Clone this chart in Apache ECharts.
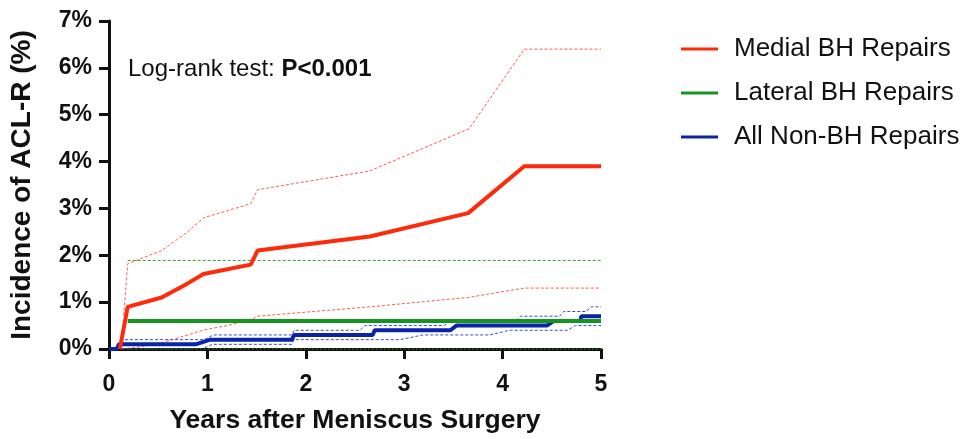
<!DOCTYPE html>
<html>
<head>
<meta charset="utf-8">
<script src="https://cdn.jsdelivr.net/npm/echarts@6/dist/echarts.min.js"></script>
<style>html,body{margin:0;padding:0;background:#fff}#c{width:965px;height:439px}</style>
</head>
<body>
<div id="c"></div>
<script>
// ---- data ----
var seriesNames = ['Medial BH Repairs', 'Lateral BH Repairs', 'All Non-BH Repairs'];
var xTicks = [0, 1, 2, 3, 4, 5];
var yTicks = [0, 1, 2, 3, 4, 5, 6, 7];

var medial = [[0.11,0],[0.19,0.9],[0.535,1.1],[0.8,1.4],[0.96,1.6],[1.44,1.8],[1.51,2.1],[2.65,2.4],[3.65,2.9],[4.22,3.9],[5,3.9]];
var medialUpper = [[0.15,0.72],[0.19,1.82],[0.535,2.1],[0.8,2.5],[0.96,2.8],[1.44,3.1],[1.51,3.4],[2.65,3.8],[3.66,4.7],[4.22,6.4],[5,6.4]];
var medialLower = [[0.13,0],[0.3,0.04],[0.55,0.14],[0.8,0.3],[0.97,0.41],[1.2,0.5],[1.44,0.62],[1.51,0.7],[2.65,0.9],[3.65,1.1],[4.22,1.3],[5,1.3]];

var lateral = [[0.19,0.6],[5,0.6]];
var lateralUpper = [[0.19,1.89],[5,1.89]];
var lateralLower = [[0.19,0],[5,0]];

var nonBH = [[0,0],[0.08,0],[0.1,0.1],[0.88,0.1],[1.03,0.2],[1.86,0.2],[1.88,0.3],[2.68,0.3],[2.7,0.4],[3.47,0.4],[3.53,0.5],[4.45,0.5],[4.52,0.6],[4.79,0.6],[4.8,0.7],[5,0.7]];
var nonBHUpper = [[0,0],[0.06,0],[0.15,0.2],[0.97,0.2],[1.06,0.3],[1.86,0.3],[1.88,0.4],[2.55,0.4],[2.6,0.5],[3.41,0.5],[3.45,0.6],[4.14,0.6],[4.18,0.7],[4.58,0.7],[4.62,0.8],[4.85,0.8],[4.9,0.9],[5,0.9]];
var nonBHLower = [[0.06,0],[0.95,0],[1.05,0.1],[1.86,0.1],[1.88,0.2],[2.96,0.2],[3.19,0.3],[3.87,0.3],[4.07,0.4],[4.66,0.4],[4.74,0.5],[5,0.5]];

var annotationText = 'Log-rank test: ';
var annotationBold = 'P<0.001';

// ---- chart ----
var RED = '#ff2a0a', GREEN = '#14961e', BLUE = '#0a23a8';
var FONT = 'Liberation Sans, Arial';
var chart = echarts.init(document.getElementById('c'));
function ci(name, data, color, width, type) {
  return {name: name, type: 'line', data: data, symbol: 'none', silent: true,
    lineStyle: {color: color, width: width || 1, type: type || [3, 2]}, z: 2};
}
function main(name, data, color) {
  return {name: name, type: 'line', data: data, symbol: 'none',
    itemStyle: {color: color}, lineStyle: {color: color, width: 4}, z: 5};
}
chart.setOption({
  animation: false,
  backgroundColor: '#fff',
  title: {
    text: '{a|' + annotationText + '}{b|' + annotationBold + '}',
    left: 123, top: 52,
    textStyle: {fontWeight: 'normal', rich: {
      a: {fontFamily: FONT, fontSize: 24, fontWeight: 'normal', color: '#111'},
      b: {fontFamily: FONT, fontSize: 24, fontWeight: 'bold', color: '#111'}
    }}
  },
  legend: {
    orient: 'vertical', left: 676, top: 31, itemGap: 18,
    itemWidth: 37, itemHeight: 3, icon: 'rect',
    data: seriesNames,
    textStyle: {fontFamily: FONT, fontSize: 26, color: '#111', padding: [0, 0, 0, 11]}
  },
  grid: {left: 106, right: 364, top: 21, bottom: 88, containLabel: false},
  xAxis: {
    type: 'value', min: xTicks[0], max: xTicks[xTicks.length - 1], interval: 1,
    name: 'Years after Meniscus Surgery', nameLocation: 'middle', nameGap: 58,
    nameTextStyle: {fontFamily: FONT, fontSize: 26.5, fontWeight: 'bold', color: '#111'},
    axisLine: {lineStyle: {color: '#111', width: 3}},
    axisTick: {length: 10, lineStyle: {color: '#111', width: 3}},
    axisLabel: {fontFamily: FONT, fontSize: 23, fontWeight: 'bold', color: '#111', margin: 24},
    splitLine: {show: false}
  },
  yAxis: {
    type: 'value', min: yTicks[0], max: yTicks[yTicks.length - 1], interval: 1,
    name: 'Incidence of ACL-R (%)', nameLocation: 'middle', nameGap: 73, nameRotate: 90,
    nameTextStyle: {fontFamily: FONT, fontSize: 28, fontWeight: 'bold', color: '#111'},
    axisLine: {show: true, lineStyle: {color: '#111', width: 3}},
    axisTick: {show: true, length: 10, lineStyle: {color: '#111', width: 3}},
    axisLabel: {fontFamily: FONT, fontSize: 23, fontWeight: 'bold', color: '#111', margin: 17, formatter: '{value}%'},
    splitLine: {show: false}
  },
  series: [
    ci('Medial upper', medialUpper, '#ff5a4a'),
    ci('Medial lower', medialLower, '#ff5a4a'),
    ci('Non-BH upper', nonBHUpper, '#3a4ad0'),
    ci('Non-BH lower', nonBHLower, '#3a4ad0'),
    ci('Lateral upper', lateralUpper, '#3a9a3a'),
    ci('Lateral lower', lateralLower, '#1a4a1a', 2, [2, 2]),
    main(seriesNames[2], nonBH, BLUE),
    main(seriesNames[1], lateral, GREEN),
    main(seriesNames[0], medial, RED)
  ]
});
</script>
</body>
</html>
